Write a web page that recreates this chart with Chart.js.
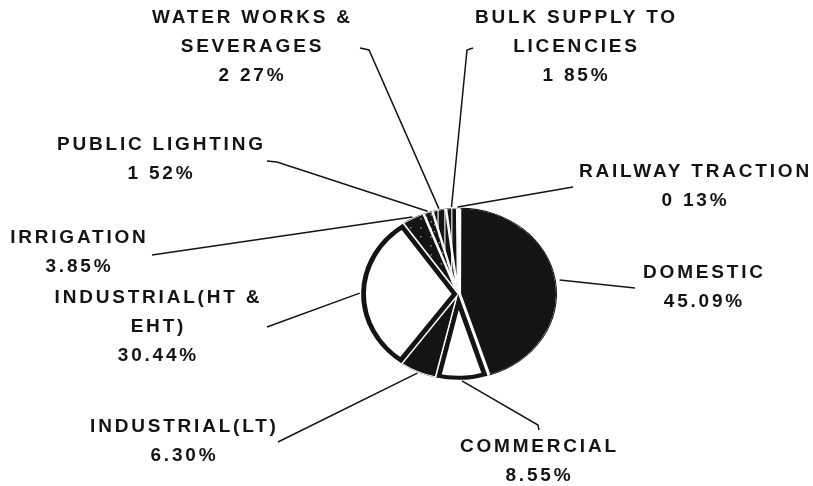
<!DOCTYPE html>
<html>
<head>
<meta charset="utf-8">
<script src="https://cdn.jsdelivr.net/npm/chart.js@4/dist/chart.umd.min.js"></script>
<style>
  html, body { margin: 0; padding: 0; background: #fff; }
  #wrap { width: 813px; height: 486px; }
</style>
</head>
<body>
<div id="wrap"><canvas id="myChart" width="813" height="486"></canvas></div>
<script>
// Data (clockwise from 12 o'clock)
const categories = ['DOMESTIC', 'COMMERCIAL', 'INDUSTRIAL(LT)', 'INDUSTRIAL(HT &\nEHT)', 'IRRIGATION',
    'PUBLIC LIGHTING', 'WATER WORKS &\nSEVERAGES', 'BULK SUPPLY TO\nLICENCIES', 'RAILWAY TRACTION'];
const shares = [45.09, 8.55, 6.30, 30.44, 3.85, 1.52, 2.27, 1.85, 0.13];
const shareText = ['45.09%', '8.55%', '6.30%', '30.44%', '3.85%', '1 52%', '2 27%', '1 85%', '0 13%'];

// Label layout: block centre x, first line y, leader path from slice outwards
const labelLayout = [
    { x: 703, y: 273, path: [[635, 288]] },
    { x: 538, y: 447, path: [[538, 425], [539, 430]] },
    { x: 183, y: 427, path: [[278, 442]] },
    { x: 157, y: 298, path: [[267, 327]] },
    { x: 78,  y: 238, path: [[152, 255]] },
    { x: 160, y: 145, path: [[277, 162], [267, 161]] },
    { x: 251, y: 18,  path: [[369, 50], [360, 48]] },
    { x: 575, y: 18,  path: [[467, 50], [473, 48]] },
    { x: 694, y: 172, path: [[573, 187]] }
];

const X_STRETCH = 1.13; // the printed pie is slightly wider than tall
const INK = '#141414';

function makePattern(size, draw) {
    const c = document.createElement('canvas');
    c.width = size; c.height = size;
    const g = c.getContext('2d');
    g.fillStyle = INK;
    g.fillRect(0, 0, size, size);
    g.fillStyle = '#fff';
    draw(g);
    return document.getElementById('myChart').getContext('2d').createPattern(c, 'repeat');
}

const dots = makePattern(9, g => { g.fillRect(2, 3, 1, 1); });
const fineDots = makePattern(7, g => { g.fillRect(3, 1, 1, 1); g.fillRect(0, 5, 1, 1); });
const stripes = makePattern(6, g => { g.fillRect(2, 0, 1, 6); });

const fills = [INK, '#fff', INK, '#fff', dots, fineDots, stripes, stripes, INK];
const borders = ['#fff', INK, '#fff', INK, '#fff', '#fff', '#fff', '#fff', '#fff'];
const borderWidths = [1, 4, 1, 4, 1, 1, 1, 1, 1];

const stretchPlugin = {
    id: 'stretch',
    beforeDatasetsDraw(chart) {
        const arc = chart.getDatasetMeta(0).data[0];
        const ctx = chart.ctx;
        ctx.save();
        ctx.translate(arc.x, arc.y);
        ctx.scale(X_STRETCH, 1);
        ctx.translate(-arc.x, -arc.y);
    },
    afterDatasetsDraw(chart) {
        chart.ctx.restore();
    }
};

const labelPlugin = {
    id: 'leaderLabels',
    afterDraw(chart) {
        const ctx = chart.ctx;
        const arcs = chart.getDatasetMeta(0).data;
        ctx.save();
        ctx.strokeStyle = INK;
        ctx.lineWidth = 1.5;
        arcs.forEach((arc, i) => {
            const p = arc.getProps(['x', 'y', 'startAngle', 'endAngle', 'outerRadius']);
            const mid = (p.startAngle + p.endAngle) / 2;
            const off = arc.options.offset || 0;
            const r = p.outerRadius + off - 1;
            const ax = p.x + Math.cos(mid) * r * X_STRETCH;
            const ay = p.y + Math.sin(mid) * r;
            ctx.beginPath();
            ctx.moveTo(ax, ay);
            labelLayout[i].path.forEach(pt => ctx.lineTo(pt[0], pt[1]));
            ctx.stroke();
        });
        ctx.fillStyle = INK;
        ctx.font = 'bold 19px "Liberation Sans", Arial, sans-serif';
        ctx.letterSpacing = '2.8px';
        ctx.textAlign = 'center';
        ctx.textBaseline = 'middle';
        categories.forEach((name, i) => {
            const lines = name.split('\n').concat([shareText[i]]);
            const lay = labelLayout[i];
            lines.forEach((t, k) => {
                ctx.fillText(t, lay.x + 1.4, lay.y + k * 29);
            });
        });
        ctx.restore();
    }
};

const ctx = document.getElementById('myChart').getContext('2d');
window.myChart = new Chart(ctx, {
    type: 'pie',
    data: {
        labels: categories,
        datasets: [{
            data: shares,
            backgroundColor: fills,
            borderColor: borders,
            borderWidth: borderWidths,
            borderAlign: 'inner',
            offset: [7, 3, 3, 3, 3, 3, 3, 3, 3]
        }]
    },
    options: {
        responsive: false,
        animation: false,
        radius: 85,
        layout: { padding: { left: 300, right: 197, top: 200, bottom: 98 } },
        plugins: {
            legend: { display: false },
            tooltip: { enabled: false }
        }
    },
    plugins: [stretchPlugin, labelPlugin]
});
</script>
</body>
</html>
